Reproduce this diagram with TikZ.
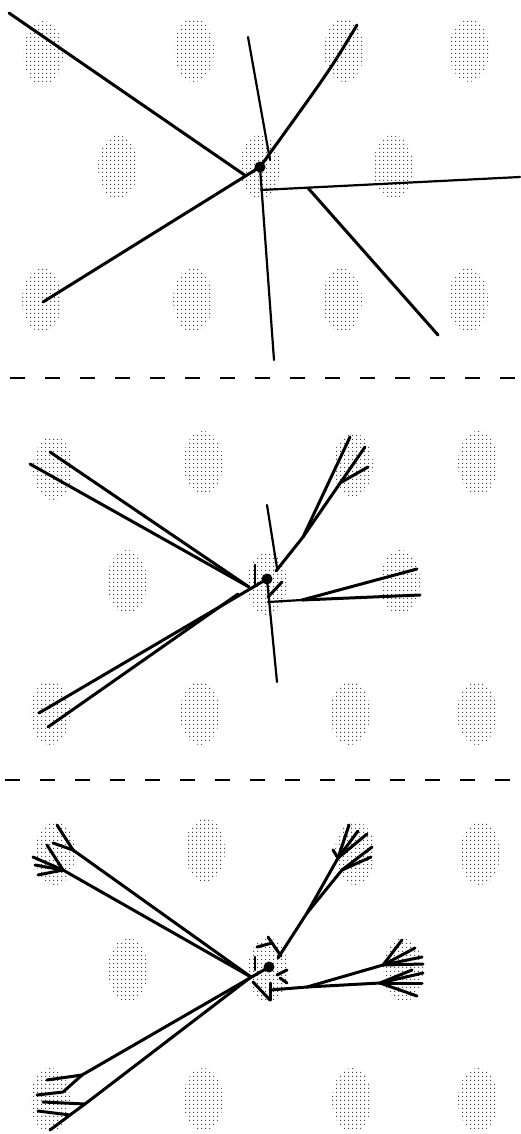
\documentclass[tikz,border=0pt]{standalone}
\usetikzlibrary{shapes.geometric,patterns.meta}
\tikzdeclarepattern{name=stip,type=uncolored,
  bounding box={(0pt,0pt) and (3.6pt,3.6pt)},tile size={(3.6pt,3.6pt)},
  code={\fill (1.8pt,1.8pt) circle (0.7pt);}}
\begin{document}
\begin{tikzpicture}[x=1pt,y=-1pt,
  blob/.style={ellipse,minimum width=40pt,minimum height=64pt,inner sep=0pt,pattern=stip,pattern color=black!80},
  dotn/.style={circle,fill=black,minimum size=11pt,inner sep=0pt},
  br/.style={line width=3pt,line cap=round,line join=round},
  thin br/.style={line width=2.2pt,line cap=round},
  sep/.style={line width=2.4pt,dash pattern=on 15pt off 20pt}]
\useasboundingbox (0,0) rectangle (521,1134);
% ---------- panel 1 ----------
\foreach \n/\x/\y in {a/43/53,b/194/50,c/344/50,d/469/50,e/118/167,f/260/167,g/393/167,h/42/300,i/193/300,j/342/300,k/468/300}
  \node[blob] (p1\n) at (\x,\y) {};
\node[dotn] (d1) at (260,167) {};
\coordinate (p1tl) at (9,13);
\coordinate (p1m) at (246,176);
\coordinate (p1bl) at (43,302);
\coordinate (p1ur) at (357,25);
\coordinate (p1urc) at (330,70);
\coordinate (p1t) at (248,37);
\coordinate (p1tb) at (270,160);
\coordinate (p1b) at (274,360);
\coordinate (p1h0) at (261,190);
\coordinate (p1h1) at (520,177);
\coordinate (p1g0) at (308,188);
\coordinate (p1g1) at (438,335);
\draw[br] (p1tl) -- (p1m);
\draw[br] (p1bl) -- (d1.center);
\draw[br] (d1.center) .. controls (p1urc) .. (p1ur);
\draw[thin br] (p1t) -- (p1tb);
\draw[thin br] (d1.center) -- (p1b);
\draw[thin br] (p1h0) -- (p1h1);
\draw[br] (p1g0) -- (p1g1);
\draw[sep] (10,378) -- (521,378);
% ---------- panel 2 ----------
\foreach \n/\x/\y in {a/53/468,b/203/463,c/353/465,d/478/463,e/127/582,f/267/583,g/400/582,h/50/713,i/200/713,j/350/713,k/477/713}
  \node[blob] (p2\n) at (\x,\y) {};
\node[dotn] (d2) at (267,579) {};
\coordinate (p2c) at (249,587);
\coordinate (p2tl1) at (50,452);
\coordinate (p2tl2) at (30,464);
\coordinate (p2bl1) at (39,713);
\coordinate (p2bl2) at (48,727);
\coordinate (p2blj) at (238,594);
\coordinate (p2u0) at (276,571);
\coordinate (p2uj) at (303,537);
\coordinate (p2u1) at (350,437);
\coordinate (p2u2) at (365,447);
\coordinate (p2uk) at (340,483);
\coordinate (p2u3) at (368,467);
\coordinate (p2t) at (267,505);
\coordinate (p2tb) at (277,568);
\coordinate (p2b) at (277,682);
\coordinate (p2k0) at (255,565);
\coordinate (p2k1) at (255,585);
\coordinate (p2s0) at (268,597);
\coordinate (p2s1) at (282,582);
\coordinate (p2r0) at (268,602);
\coordinate (p2rj) at (302,600);
\coordinate (p2r1) at (417,569);
\coordinate (p2r2) at (420,595);
\draw[br] (p2tl1) -- (p2c);
\draw[br] (p2tl2) -- (p2c);
\draw[br] (p2bl1) -- (d2.center);
\draw[br] (p2bl2) -- (p2blj);
\draw[br] (p2u0) -- (p2uj) -- (p2u1);
\draw[br] (p2uj) -- (p2u2);
\draw[br] (p2uk) -- (p2u3);
\draw[thin br] (p2t) -- (p2tb);
\draw[thin br] (d2.center) -- (p2b);
\draw[thin br] (p2k0) -- (p2k1);
\draw[br] (p2s0) -- (p2s1);
\draw[thin br] (p2r0) -- (p2rj);
\draw[br] (p2rj) -- (p2r1);
\draw[br] (p2rj) -- (p2r2);
\draw[sep] (5,780) -- (521,780);
% ---------- panel 3 ----------
\foreach \n/\x/\y in {a/55/853,b/205/850,c/355/853,d/480/853,e/128/970,f/268/970,g/403/970,h/50/1100,i/203/1100,j/352/1100,k/478/1100}
  \node[blob] (p3\n) at (\x,\y) {};
\node[dotn] (d3) at (269,967) {};
\coordinate (p3c) at (251,977);
% top-left fan
\coordinate (p3j1) at (73,850);
\coordinate (p3j1a) at (57,825);
\coordinate (p3j1b) at (53,843);
\coordinate (p3j2) at (63,870);
\coordinate (p3j2a) at (47,845);
\coordinate (p3j2b) at (33,857);
\coordinate (p3j2c) at (35,865);
\coordinate (p3j2d) at (38,875);
\draw[br] (p3c) -- (p3j1) -- (p3j1a);
\draw[br] (p3j1) -- (p3j1b);
\draw[br] (p3c) -- (p3j2) -- (p3j2a);
\draw[br] (p3j2) -- (p3j2b);
\draw[br] (p3j2) -- (p3j2c);
\draw[br] (p3j2) -- (p3j2d);
% up-right fan
\coordinate (p3u0) at (278,958);
\coordinate (p3uj) at (307,913);
\coordinate (p3j3) at (338,858);
\coordinate (p3j3a) at (349,825);
\coordinate (p3j3b) at (358,831);
\coordinate (p3j3c) at (367,834);
\coordinate (p3j4) at (342,870);
\coordinate (p3j4a) at (372,847);
\coordinate (p3j4b) at (371,857);
\coordinate (p3j4c) at (333,850);
\draw[br] (p3u0) -- (p3uj) -- (p3j3) -- (p3j3a);
\draw[br] (p3j3) -- (p3j3b);
\draw[br] (p3j3) -- (p3j3c);
\draw[br] (p3uj) -- (p3j4) -- (p3j4a);
\draw[br] (p3j4) -- (p3j4b);
\draw[br] (p3j3) -- (p3j4c);
% right fan
\coordinate (p3r0) at (270,990);
\coordinate (p3rj) at (307,987);
\coordinate (p3ru) at (383,965);
\coordinate (p3ru1) at (402,940);
\coordinate (p3ru2) at (415,948);
\coordinate (p3ru3) at (422,957);
\coordinate (p3ru4) at (423,964);
\coordinate (p3rl) at (380,983);
\coordinate (p3rl1) at (412,970);
\coordinate (p3rl2) at (423,973);
\coordinate (p3rl3) at (422,983);
\coordinate (p3rl4) at (417,996);
\draw[br] (p3r0) -- (p3rj);
\draw[br] (p3rj) -- (p3ru) -- (p3ru1);
\draw[br] (p3ru) -- (p3ru2);
\draw[br] (p3ru) -- (p3ru3);
\draw[br] (p3ru) -- (p3ru4);
\draw[br] (p3rj) -- (p3rl) -- (p3rl1);
\draw[br] (p3rl) -- (p3rl2);
\draw[br] (p3rl) -- (p3rl3);
\draw[br] (p3rl) -- (p3rl4);
% bottom-left fan
\coordinate (p3b1) at (82,1075);
\coordinate (p3b1a) at (47,1080);
\coordinate (p3b1k) at (63,1092);
\coordinate (p3b1b) at (37,1095);
\coordinate (p3b2) at (85,1104);
\coordinate (p3b2a) at (43,1102);
\coordinate (p3b2k) at (70,1115);
\coordinate (p3b2b) at (38,1111);
\coordinate (p3b2c) at (50,1130);
\draw[br] (d3.center) -- (p3b1) -- (p3b1a);
\draw[br] (p3b1) -- (p3b1k) -- (p3b1b);
\draw[br] (p3c) -- (p3b2) -- (p3b2k) -- (p3b2c);
\draw[br] (p3b2) -- (p3b2a);
\draw[br] (p3b2k) -- (p3b2b);
% central small tree
\coordinate (p3x0) at (268,937);
\coordinate (p3x1) at (281,956);
\coordinate (p3y0) at (257,947);
\coordinate (p3y1) at (272,943);
\coordinate (p3k0) at (255,957);
\coordinate (p3k1) at (255,970);
\coordinate (p3z0) at (253,982);
\coordinate (p3z1) at (270,1000);
\coordinate (p3v0) at (270,983);
\coordinate (p3w0) at (277,975);
\coordinate (p3w1) at (287,970);
\coordinate (p3q0) at (280,978);
\coordinate (p3q1) at (287,983);
\draw[br] (p3x0) -- (p3x1);
\draw[br] (p3y0) -- (p3y1);
\draw[thin br] (p3k0) -- (p3k1);
\draw[br] (p3z0) -- (p3z1);
\draw[br] (p3v0) -- (p3z1);
\draw[br] (p3w0) -- (p3w1);
\draw[br] (p3q0) -- (p3q1);
\end{tikzpicture}
\end{document}
